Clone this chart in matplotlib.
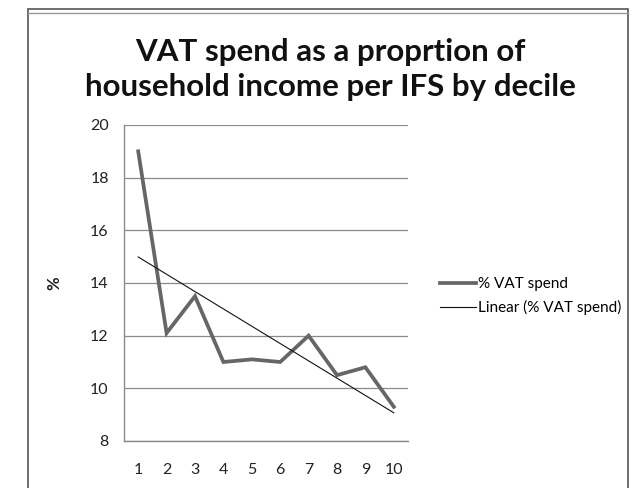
import numpy as np
import matplotlib.pyplot as plt
from matplotlib.lines import Line2D
from matplotlib.patches import Rectangle

deciles = [1, 2, 3, 4, 5, 6, 7, 8, 9, 10]
vat_spend = [19.0, 12.1, 13.5, 11.0, 11.1, 11.0, 12.0, 10.5, 10.8, 9.3]
y_ticks = [8, 10, 12, 14, 16, 18, 20]

plt.rcParams["font.family"] = ["Lato", "DejaVu Sans"]

fig = plt.figure(figsize=(6.4, 4.88), dpi=100)
fig.patch.set_facecolor("white")

# outer chart frame (double line on top)
fig.patches.append(Rectangle((28 / 640, -0.05), 600 / 640, 1.05 - 9 / 488,
                             transform=fig.transFigure, fill=False,
                             edgecolor="#555555", linewidth=1.2))
fig.lines.append(Line2D([28 / 640, 628 / 640], [1 - 13 / 488, 1 - 13 / 488],
                        transform=fig.transFigure, color="#999999", linewidth=1.0))

ax = fig.add_axes([124 / 640, 47 / 488, 284 / 640, 316 / 488])

x = np.array(deciles)
y = np.array(vat_spend)
slope, intercept = np.polyfit(x, y, 1)

ax.plot(x, y, color="#666666", linewidth=2.7, solid_joinstyle="miter",
        label="% VAT spend")
ax.plot(x, slope * x + intercept, color="#111111", linewidth=0.8,
        label="Linear (% VAT spend)")

ax.set_xlim(0.5, 10.5)
ax.set_ylim(8, 20)
ax.set_xticks(deciles)
ax.set_yticks(y_ticks)
ax.yaxis.grid(True, color="#8a8a8a", linewidth=0.9)
ax.set_axisbelow(True)
for side in ("top", "right"):
    ax.spines[side].set_visible(False)
for side in ("left", "bottom"):
    ax.spines[side].set_color("#8a8a8a")
    ax.spines[side].set_linewidth(1.0)
ax.tick_params(axis="y", length=0, pad=11, labelsize=11.5, labelcolor="#222222")
ax.tick_params(axis="x", length=0, pad=16, labelsize=11.5, labelcolor="#222222")
ax.set_ylabel("%", fontsize=12, color="#222222", labelpad=20, fontweight="bold")

fig.text(0.516, 0.858, "VAT spend as a proprtion of\nhousehold income per IFS by decile",
         ha="center", va="center", fontsize=22.5, fontweight="bold",
         color="#111111", linespacing=1.3)

ax.legend(loc="center left", bbox_to_anchor=(426 / 640, 1 - 296 / 488),
          bbox_transform=fig.transFigure, frameon=False, fontsize=11,
          handlelength=2.4, handletextpad=0.1, labelspacing=0.6)

fig.savefig("out.png", dpi=100, facecolor="white")
